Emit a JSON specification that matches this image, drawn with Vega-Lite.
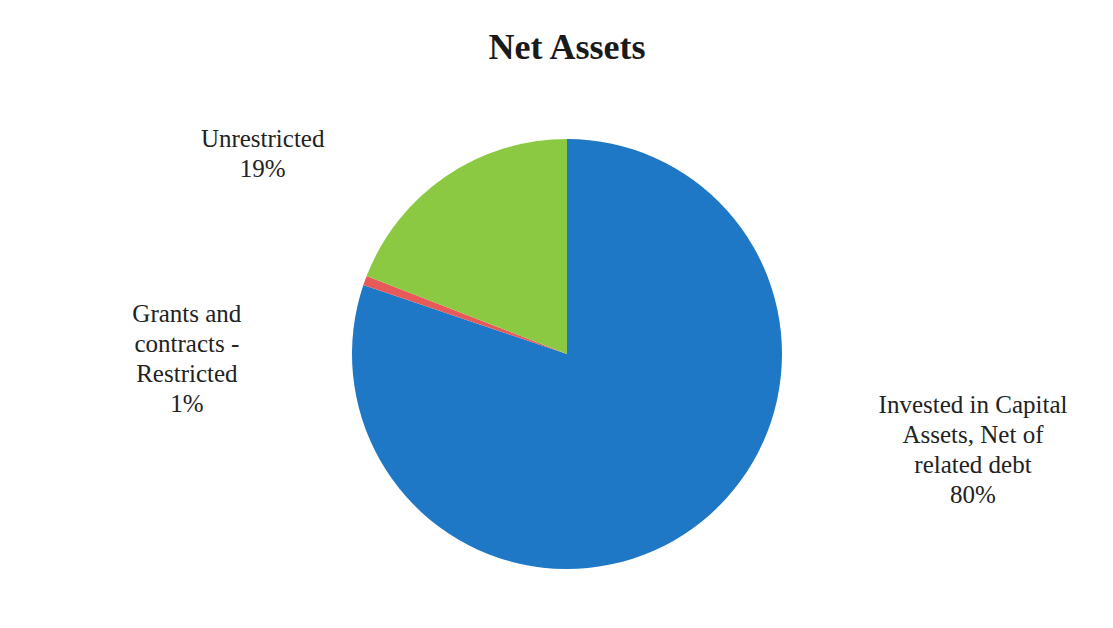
{
  "$schema": "https://vega.github.io/schema/vega-lite/v6.json",
  "width": 1134,
  "height": 548,
  "autosize": {"type": "none"},
  "padding": {"top": 80, "left": 0, "right": 0, "bottom": 0},
  "background": "white",
  "config": {"view": {"stroke": null}},
  "title": {
    "text": "Net Assets",
    "font": "Liberation Serif",
    "fontSize": 36,
    "fontWeight": "bold",
    "color": "#1a1a1a",
    "anchor": "middle",
    "baseline": "alphabetic",
    "offset": -15
  },
  "data": {
    "values": [
      {"category": "Invested in Capital Assets, Net of related debt", "value": 80.2, "order": 1, "label": "Invested in Capital\nAssets, Net of\nrelated debt\n80%"},
      {"category": "Grants and contracts - Restricted", "value": 0.7, "order": 2, "label": "Grants and\ncontracts -\nRestricted\n1%"},
      {"category": "Unrestricted", "value": 19.1, "order": 3, "label": "Unrestricted\n19%"}
    ]
  },
  "transform": [
    {"stack": "value", "groupby": [], "sort": [{"field": "order", "order": "ascending"}], "as": ["v0", "v1"]}
  ],
  "layer": [
    {
      "mark": {"type": "arc", "outerRadius": 215},
      "encoding": {
        "theta": {"field": "v0", "type": "quantitative", "scale": {"domain": [0, 100]}},
        "theta2": {"field": "v1"},
        "color": {
          "field": "category",
          "type": "nominal",
          "scale": {
            "domain": ["Invested in Capital Assets, Net of related debt", "Grants and contracts - Restricted", "Unrestricted"],
            "range": ["#1F78C6", "#E65A5A", "#8CC943"]
          },
          "legend": null
        }
      }
    },
    {
      "transform": [{"filter": "datum.order == 1"}],
      "mark": {"type": "text", "radius": 100, "dx": 406, "dy": 151, "font": "Liberation Serif", "fontSize": 25, "lineHeight": 30, "lineBreak": "\n", "align": "center", "baseline": "middle", "color": "#222222"},
      "encoding": {"theta": {"field": "v0", "type": "quantitative"}, "text": {"field": "label"}}
    },
    {
      "transform": [{"filter": "datum.order == 2"}],
      "mark": {"type": "text", "radius": 300, "dx": -96, "dy": 56, "font": "Liberation Serif", "fontSize": 25, "lineHeight": 30, "lineBreak": "\n", "align": "center", "baseline": "middle", "color": "#222222"},
      "encoding": {"theta": {"field": "v0", "type": "quantitative"}, "text": {"field": "label"}}
    },
    {
      "transform": [{"filter": "datum.order == 3"}],
      "mark": {"type": "text", "radius": 363, "dx": 34, "dy": -83, "font": "Liberation Serif", "fontSize": 25, "lineHeight": 30, "lineBreak": "\n", "align": "center", "baseline": "middle", "color": "#222222"},
      "encoding": {"theta": {"field": "v0", "type": "quantitative"}, "text": {"field": "label"}}
    }
  ]
}
